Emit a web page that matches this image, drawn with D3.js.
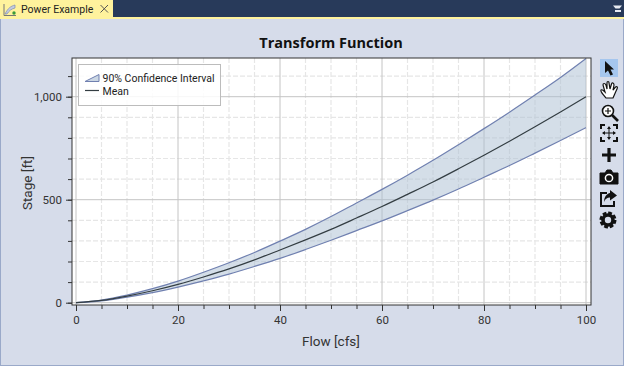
<!DOCTYPE html>
<html lang="en">
<head>
<meta charset="UTF-8">
<title>Transform Function</title>
<script src="https://d3js.org/d3.v7.min.js"></script>
<style>
    html, body { margin: 0; padding: 0; background: #d6dcea; overflow: hidden; }
    svg { display: block; font-family: Roboto, sans-serif; }
    .axis path { display: none; }
    .axis line { stroke: #333; }
    .axis text { font-family: Roboto, sans-serif; font-size: 11.5px; fill: #333; }
</style>
</head>
<body>
<svg id="chart" width="624" height="366"></svg>
<script>
    // values
    const flow  = [0, 5, 10, 15, 20, 25, 30, 35, 40, 45, 50, 55, 60, 65, 70, 75, 80, 85, 90, 95, 100];
    const mean  = [0, 11, 32, 58, 89, 125, 164, 208, 256, 305, 356, 411, 467, 526, 586, 650, 716, 784, 854, 926, 1000];
    const upper = [0, 13, 37, 68, 105, 148, 194, 244, 299, 356, 418, 484, 550, 619, 691, 767, 845, 925, 1008, 1093, 1185];
    const lower = [0, 9, 27, 49, 76, 106, 139, 176, 215, 258, 303, 350, 397, 447, 498, 552, 609, 666, 726, 787, 850];

    const xMajor = [0, 20, 40, 60, 80, 100];
    const xMinor = [0, 5, 10, 15, 20, 25, 30, 35, 40, 45, 50, 55, 60, 65, 70, 75, 80, 85, 90, 95, 100];
    const yMajor = [0, 500, 1000];
    const yMinor = [0, 100, 200, 300, 400, 500, 600, 700, 800, 900, 1000, 1100];
    const legendLabels = ["90% Confidence Interval", "Mean"];

    const svg = d3.select("#chart");

    // plot frame
    const plotL = 72, plotR = 591, plotT = 58, plotB = 305;
    const x = d3.scaleLinear().domain([0, 100]).range([76, 586]);
    const y = d3.scaleLinear().domain([0, 1000]).range([302.7, 96.7]);

    // window chrome
    svg.append("rect").attr("width", 624).attr("height", 366).attr("fill", "#d6dcea");
    svg.append("rect").attr("x", 0.5).attr("y", 18).attr("width", 623).attr("height", 347.5)
        .attr("fill", "none").attr("stroke", "#9aa9c9");
    svg.append("rect").attr("width", 624).attr("height", 17).attr("fill", "#283a5a");
    svg.append("rect").attr("y", 17).attr("width", 624).attr("height", 2).attr("fill", "#fff29d");
    svg.append("rect").attr("width", 113).attr("height", 18).attr("fill", "#fff29d");
    svg.append("text").attr("x", 21).attr("y", 13).attr("font-size", 10.5).attr("fill", "#222").text("Power Example");
    svg.append("path").attr("d", "M100.5,5L108,12.5M108,5L100.5,12.5").attr("stroke", "#555").attr("fill", "none");

    // tab icon
    svg.append("path").attr("d", "M4,4V15.5H16").attr("fill", "none").attr("stroke", "#777");
    svg.append("path").attr("d", "M5,14C8,8 11,6 15,5L15,8C11,9 9,11 7,14Z").attr("fill", "#c3cbe0").attr("stroke", "#7f8bb0").attr("stroke-width", 0.7);
    svg.append("circle").attr("cx", 14).attr("cy", 13).attr("r", 1.7).attr("fill", "#3a9a3a");

    // dropdown glyph at the top right
    svg.append("path").attr("d", "M613,5.5H622L619.5,8.5H615.5Z").attr("fill", "#e8ebf2");
    svg.append("rect").attr("x", 615).attr("y", 10).attr("width", 6).attr("height", 2).attr("fill", "#e8ebf2");

    svg.append("rect").attr("x", plotL).attr("y", plotT).attr("width", plotR - plotL).attr("height", plotB - plotT).attr("fill", "#fff");

    // minor grid
    const grid = svg.append("g");
    grid.selectAll(".vminor").data(xMinor.filter(d => !xMajor.includes(d))).enter().append("line")
        .attr("x1", d => x(d)).attr("x2", d => x(d)).attr("y1", plotT).attr("y2", plotB)
        .attr("stroke", "#e6e6e6").attr("stroke-width", 1.2).attr("stroke-dasharray", "5,2");
    grid.selectAll(".hminor").data(yMinor.filter(d => !yMajor.includes(d))).enter().append("line")
        .attr("x1", plotL).attr("x2", plotR).attr("y1", d => y(d)).attr("y2", d => y(d))
        .attr("stroke", "#e6e6e6").attr("stroke-width", 1.2).attr("stroke-dasharray", "5,2");
    // major grid
    grid.selectAll(".vmajor").data(xMajor).enter().append("line")
        .attr("x1", d => x(d)).attr("x2", d => x(d)).attr("y1", plotT).attr("y2", plotB)
        .attr("stroke", "#c4c4c4");
    grid.selectAll(".hmajor").data(yMajor).enter().append("line")
        .attr("x1", plotL).attr("x2", plotR).attr("y1", d => y(d)).attr("y2", d => y(d))
        .attr("stroke", "#c4c4c4");

    // confidence band
    const rows = flow.map((f, i) => ({f, m: mean[i], u: upper[i], l: lower[i]}));
    const band = d3.area().x(d => x(d.f)).y0(d => y(d.l)).y1(d => y(d.u)).curve(d3.curveMonotoneX);
    svg.append("path").datum(rows).attr("d", band).attr("fill", "#a9bdd2").attr("fill-opacity", 0.5);

    const lineOf = key => d3.line().x(d => x(d.f)).y(d => y(d[key])).curve(d3.curveMonotoneX);
    ["u", "l"].forEach(k => {
        svg.append("path").datum(rows).attr("d", lineOf(k)).attr("fill", "none")
            .attr("stroke", "#7080b0").attr("stroke-width", 1.2);
    });
    svg.append("path").datum(rows).attr("d", lineOf("m")).attr("fill", "none")
        .attr("stroke", "#333d42").attr("stroke-width", 1.2);

    // frame
    svg.append("rect").attr("x", plotL).attr("y", plotT).attr("width", plotR - plotL).attr("height", plotB - plotT)
        .attr("fill", "none").attr("stroke", "#333");

    // axes
    const xMinorAxis = d3.axisBottom(x).tickValues(xMinor).tickSize(4).tickFormat("");
    const xAxis = d3.axisBottom(x).tickValues(xMajor).tickSize(6).tickPadding(5);
    const yMinorAxis = d3.axisLeft(y).tickValues(yMinor).tickSize(4).tickFormat("");
    const yAxis = d3.axisLeft(y).tickValues(yMajor).tickSize(6).tickPadding(4).tickFormat(d3.format(","));
    svg.append("g").attr("class", "axis").attr("transform", `translate(0,${plotB})`).call(xMinorAxis);
    svg.append("g").attr("class", "axis").attr("transform", `translate(0,${plotB})`).call(xAxis);
    svg.append("g").attr("class", "axis").attr("transform", `translate(${plotL},0)`).call(yMinorAxis);
    svg.append("g").attr("class", "axis").attr("transform", `translate(${plotL},0)`).call(yAxis);

    // titles
    svg.append("text").attr("x", 331).attr("y", 48).attr("text-anchor", "middle")
        .attr("font-family", "Open Sans").attr("font-size", 14.5).attr("font-weight", 700).attr("fill", "#111").text("Transform Function");
    svg.append("text").attr("x", 331).attr("y", 346).attr("text-anchor", "middle")
        .attr("font-size", 13.5).attr("fill", "#333").text("Flow [cfs]");
    svg.append("text").attr("transform", "translate(32,183) rotate(-90)").attr("text-anchor", "middle")
        .attr("font-size", 13.5).attr("fill", "#333").text("Stage [ft]");

    // legend
    const legend = svg.append("g").attr("transform", "translate(78.5,64.5)");
    legend.append("rect").attr("width", 142).attr("height", 41)
        .attr("fill", "#fff").attr("fill-opacity", 0.85).attr("stroke", "#bcbcbc");
    legend.append("path").attr("d", "M6.5,17L20.5,10V17Z").attr("fill", "#a9bdd2").attr("fill-opacity", 0.6).attr("stroke", "#7080b0");
    legend.append("line").attr("x1", 6.5).attr("x2", 20.5).attr("y1", 26).attr("y2", 26).attr("stroke", "#333d42").attr("stroke-width", 1.2);
    legend.selectAll("text").data(legendLabels).enter().append("text")
        .attr("x", 24).attr("y", (d, i) => 17 + i * 13)
        .attr("font-size", 10.5).attr("fill", "#222").text(d => d);

    // toolbar
    svg.append("rect").attr("x", 600).attr("y", 59).attr("width", 18).attr("height", 18).attr("fill", "#a5c6ee");
    const tool = (cx, cy) => svg.append("g").attr("transform", `translate(${cx},${cy})`);
    tool(609, 68).append("path").attr("d", "M-4,-7V5L-1,2.5L1.5,7.5L4,6.5L1.5,1.5H5Z").attr("fill", "#111");
    const hand = tool(609, 90);
    hand.append("path").attr("d", "M-3,8C-5,5 -9,2 -8,0C-7,-1 -5,1 -4,2L-6,-5C-6,-7 -4,-7 -3,-5L-2,-1L-2,-7C-2,-9 0,-9 0,-7L1,-1L2.5,-6C3,-8 5,-7 5,-5L4,0L6.5,-3C8,-4 9,-3 8,-1C6,3 5,6 4,8Z")
        .attr("fill", "#fff").attr("stroke", "#111").attr("stroke-width", 1.2);
    const zoomIcon = tool(608, 111);
    zoomIcon.append("circle").attr("r", 5.5).attr("fill", "#fff").attr("stroke", "#111").attr("stroke-width", 1.6);
    zoomIcon.append("path").attr("d", "M-3,0H3M0,-3V3").attr("stroke", "#111").attr("stroke-width", 1.2);
    zoomIcon.append("path").attr("d", "M4,4L10,10").attr("stroke", "#111").attr("stroke-width", 2.6);
    const fit = tool(609, 133);
    fit.append("path").attr("d", "M-8,-4V-8H-4M4,-8H8V-4M8,4V8H4M-4,8H-8V4").attr("fill", "none").attr("stroke", "#111").attr("stroke-width", 2);
    fit.append("path").attr("d", "M0,-6V6M-6,0H6").attr("stroke", "#111").attr("stroke-width", 1);
    fit.append("path").attr("d", "M0,-7L-2,-4H2ZM0,7L-2,4H2ZM-7,0L-4,-2V2ZM7,0L4,-2V2Z").attr("fill", "#111");
    tool(609, 155).append("path").attr("d", "M-7,0H7M0,-7V7").attr("stroke", "#111").attr("stroke-width", 3.2);
    const cam = tool(609, 177);
    cam.append("path").attr("d", "M-9,-4H-4L-2,-7H2L4,-4H9V7H-9Z").attr("fill", "#111").attr("stroke", "#111").attr("stroke-linejoin", "round");
    cam.append("circle").attr("cy", 1).attr("r", 3.6).attr("fill", "none").attr("stroke", "#fff").attr("stroke-width", 1.5);
    const share = tool(608, 199);
    share.append("path").attr("d", "M-1,-6H-7V7H6V2").attr("fill", "none").attr("stroke", "#111").attr("stroke-width", 2);
    share.append("path").attr("d", "M2,-9L9,-3.5L2,1.5V-1.5C-1,-1.5 -3,0 -4,3C-4,-2 -1,-5.5 2,-6Z").attr("fill", "#111");
    const gear = tool(608, 220);
    gear.append("circle").attr("r", 5).attr("fill", "none").attr("stroke", "#111").attr("stroke-width", 3.6);
    gear.append("circle").attr("r", 7.2).attr("fill", "none").attr("stroke", "#111").attr("stroke-width", 2.6).attr("stroke-dasharray", "3.8,1.85");
</script>
</body>
</html>
